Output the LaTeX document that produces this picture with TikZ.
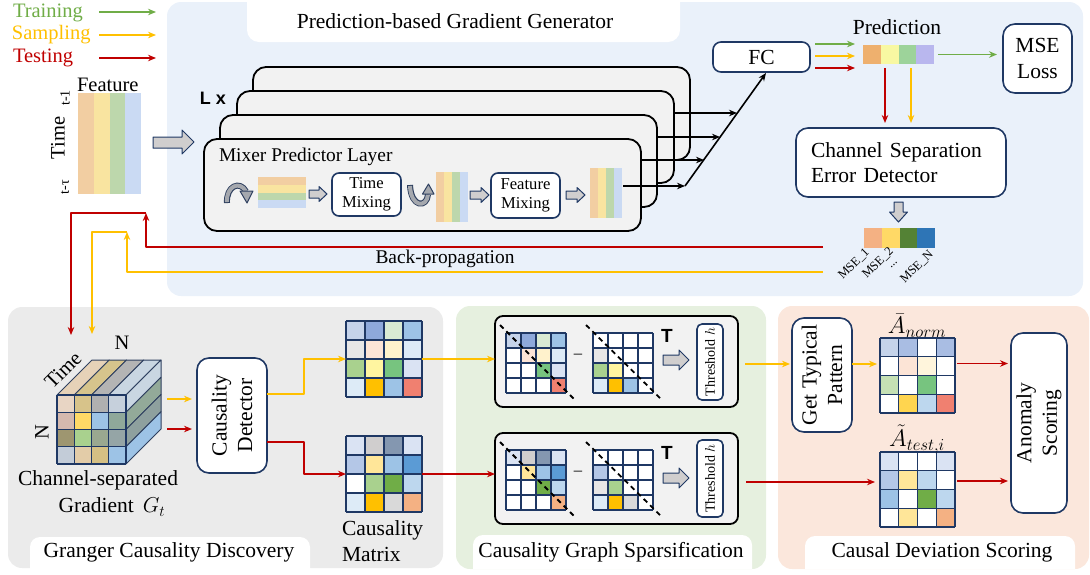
\documentclass[tikz,border=0pt]{standalone}
\usepackage{fix-cm}
\usepackage{fontspec}
\setmainfont{Liberation Serif}
\newfontfamily\lsans{Liberation Sans}
\usetikzlibrary{arrows.meta,calc}
\newcommand\fA{\fontsize{21.5}{25.5}\selectfont}
\newcommand\fL{\fontsize{20.5}{24}\selectfont}
\newcommand\fB{\fontsize{19.4}{22}\selectfont}
\newcommand\fM{\fontsize{16.6}{19}\selectfont}
\newcommand\fT{\fontsize{14}{16}\selectfont}
\newcommand\fS{\fontsize{12.5}{13}\selectfont}
\definecolor{cgreen}{HTML}{70AD47}
\definecolor{cyel}{HTML}{FFC000}
\definecolor{cred}{HTML}{C00000}
\definecolor{navy}{HTML}{1F3864}
\definecolor{navyd}{HTML}{2F4060}
\definecolor{bluep}{HTML}{EAF1FA}
\definecolor{greyp}{HTML}{EBEBEB}
\definecolor{greenp}{HTML}{E6F0DF}
\definecolor{orangep}{HTML}{FBE7DC}
\definecolor{layerg}{HTML}{F2F2F2}
\definecolor{agrey}{HTML}{D0CECE}
\definecolor{igrey}{HTML}{A5A8AE}
\definecolor{so}{HTML}{F2CEA2}
\definecolor{sy}{HTML}{F9E4A0}
\definecolor{sg}{HTML}{BDD7AC}
\definecolor{sb}{HTML}{CADAF3}
\definecolor{pa}{HTML}{EEB06E}
\definecolor{pb}{HTML}{F8F8A2}
\definecolor{pc}{HTML}{9DD39A}
\definecolor{pd}{HTML}{B9B7EE}
\definecolor{ma}{HTML}{F4B183}
\definecolor{mb}{HTML}{FFD966}
\definecolor{mc}{HTML}{548235}
\definecolor{md}{HTML}{2E75B6}
\definecolor{lbA}{HTML}{C5D3EA}
\definecolor{mbA}{HTML}{8EA9DB}
\definecolor{lgA}{HTML}{D9EAD3}
\definecolor{sbA}{HTML}{9DC3E6}
\definecolor{lgrA}{HTML}{E7E6E6}
\definecolor{pchA}{HTML}{FCE4D6}
\definecolor{crmA}{HTML}{FFF2CC}
\definecolor{pcyA}{HTML}{DDEBF7}
\definecolor{grA}{HTML}{A9D18E}
\definecolor{pyeA}{HTML}{FFF5A0}
\definecolor{mgA}{HTML}{77C47F}
\definecolor{pblA}{HTML}{DAE3F3}
\definecolor{goldA}{HTML}{FFC000}
\definecolor{salA}{HTML}{F08070}
\definecolor{gryA}{HTML}{D0CECE}
\definecolor{slaA}{HTML}{8497B0}
\definecolor{blA}{HTML}{B4C7E7}
\definecolor{lyA}{HTML}{FFE699}
\definecolor{mblA}{HTML}{5B9BD5}
\definecolor{dgA}{HTML}{70AD47}
\definecolor{bl3A}{HTML}{BDD7EE}
\definecolor{lgyA}{HTML}{D9D9D9}
\definecolor{orgA}{HTML}{F4B183}
\definecolor{lggA}{HTML}{C5E0B4}
\definecolor{ydA}{HTML}{FFD54F}
\definecolor{amA}{HTML}{A9BDE3}
\definecolor{crm2A}{HTML}{FFF5DC}
\definecolor{cu1}{HTML}{E8D5C4}
\definecolor{cu2}{HTML}{D7C38A}
\definecolor{cu3}{HTML}{B0B0B0}
\definecolor{cu4}{HTML}{C6D0DC}
\definecolor{cu5}{HTML}{D5B9AE}
\definecolor{cu6}{HTML}{FFD966}
\definecolor{cu7}{HTML}{9DC3E6}
\definecolor{cu8}{HTML}{8FA89A}
\definecolor{cu9}{HTML}{9E9670}
\definecolor{cu10}{HTML}{A9D18E}
\definecolor{cu11}{HTML}{9AA890}
\definecolor{cu12}{HTML}{95A5A6}
\definecolor{cu13}{HTML}{C3CCD8}
\definecolor{cu14}{HTML}{E3CCA8}
\definecolor{cu15}{HTML}{D5C084}
\definecolor{ct1}{HTML}{E6D2B8}
\definecolor{ct2}{HTML}{D6C48C}
\definecolor{ct3}{HTML}{B4B4B4}
\definecolor{ct4}{HTML}{C9D6E2}
\definecolor{cr2}{HTML}{93AA99}
\definecolor{cr3}{HTML}{8EA09E}
\newcommand\cmat[4]{%
 \foreach \cl [count=\ii from 0] in {#4} {%
   \pgfmathtruncatemacro\cmr{\ii/4}%
   \pgfmathtruncatemacro\cmc{\ii-4*\cmr}%
   \fill[\cl] ({#1+\cmc*#3},{#2+\cmr*#3}) rectangle ++(#3,#3);%
 }%
 \foreach \k in {0,...,4} {%
   \draw[navy, line width=1.2] ({#1+\k*#3},#2) -- ++(0,{4*#3});%
   \draw[navy, line width=1.2] (#1,{#2+\k*#3}) -- ++({4*#3},0);%
 }%
}
\newcommand\vstripes[4]{\foreach \cl [count=\ii from 0] in {so,sy,sg,sb} {\fill[\cl] ({#1+\ii*#3/4},#2) rectangle ++({#3/4},#4);}}
\newcommand\hstripes[4]{\foreach \cl [count=\ii from 0] in {so,sy,sg,sb} {\fill[\cl] (#1,{#2+\ii*#4/4}) rectangle ++(#3,{#4/4});}}
\newcommand\rarrow[6]{\filldraw[barrow] (#1,{#2-#4}) -- ({#3-#6},{#2-#4}) -- ({#3-#6},{#2-#5}) -- (#3,#2) -- ({#3-#6},{#2+#5}) -- ({#3-#6},{#2+#4}) -- (#1,{#2+#4}) -- cycle;}
\begin{document}
\begin{tikzpicture}[x=1pt,y=-1pt,line join=round,
  every node/.style={inner sep=0,outer sep=0},
  tip/.style={-{Stealth[length=8pt,width=6.5pt]}},
  gline/.style={tip,draw=cgreen,line width=1.6},
  yline/.style={tip,draw=cyel,line width=1.6},
  rline/.style={tip,draw=cred,line width=1.6},
  kline/.style={tip,draw=black,line width=1.6},
  nbox/.style={draw=navy,line width=1.6,rounded corners=8,fill=white},
  layer/.style={draw=black,line width=1.8,rounded corners=13,fill=layerg},
  barrow/.style={fill=agrey,draw=navy,line width=1},
  gbox/.style={draw=black,line width=1.8,rounded corners=8,fill=layerg},
  diag/.style={draw=black,line width=1.8,dash pattern=on 5pt off 4pt},
  tabtxt/.style={font=\fA}]
\useasboundingbox (0,0) rectangle (1090,574);
% ---------- panels
\fill[bluep,rounded corners=14] (167,2) rectangle (1083,296);
\fill[white,rounded corners=12] (247,-20) rectangle (680,42);
\node[tabtxt] (ttl) at (455,21) {Prediction-based Gradient Generator};
\fill[greyp,rounded corners=14] (8,307) rectangle (443,568);
\fill[greenp,rounded corners=14] (456,306) rectangle (766,569);
\fill[orangep,rounded corners=14] (778,306) rectangle (1089,569);
\begin{scope}
\clip (0,0) rectangle (1090,568.5);
\fill[white,rounded corners=10] (30,537) rectangle (310,600);
\fill[white,rounded corners=10] (473,535) rectangle (752,600);
\fill[white,rounded corners=10] (805,536) rectangle (1075,600);
\end{scope}
\node[tabtxt] (t1) at (169,552) {Granger Causality Discovery};
\node[tabtxt] (t2) at (611,552) {Causality Graph Sparsification};
\node[tabtxt] (t3) at (942,552) {Causal Deviation Scoring};
% ---------- legend
\node[anchor=base west,text=cgreen,font=\fL] (ltr) at (13,17) {Training};
\node[anchor=base west,text=cyel,font=\fL] (lsa) at (12,39) {Sampling};
\node[anchor=base west,text=cred,font=\fL] (lte) at (13,62) {Testing};
\coordinate (g0) at (99,12); \coordinate (g1) at (156,12);
\coordinate (y0) at (99,35); \coordinate (y1) at (156,35);
\coordinate (r0) at (99,58); \coordinate (r1) at (156,58);
\draw[gline] (g0) -- (g1);
\draw[yline] (y0) -- (y1);
\draw[rline] (r0) -- (r1);
% ---------- feature input
\node[anchor=base west,font=\fL] (feat) at (77,91) {Feature};
\vstripes{78}{93}{63}{101}
\node[minimum width=63,minimum height=101,anchor=north west] (fblk) at (78,93) {};
\node[rotate=90,font=\fL] (timel) at (58,138) {Time};
\node[rotate=90,font=\fT] (tm1) at (65,98) {t-1};
\node[rotate=90,font=\fT] (tmt) at (65,187) {t-τ};
\filldraw[barrow] (153,137) -- (182,137) -- (182,130) -- (194,142) -- (182,154) -- (182,148) -- (153,148) -- cycle;
% ---------- layer stack
\node[layer,minimum width=437,minimum height=93,anchor=north west] (L3) at (253,67) {};
\node[layer,minimum width=437,minimum height=92,anchor=north west] (L2) at (237,91) {};
\node[layer,minimum width=437,minimum height=92,anchor=north west] (L1) at (220,115) {};
\node[layer,minimum width=437,minimum height=92,anchor=north west] (L0) at (204,139) {};
\node[font=\lsans\bfseries\fontsize{18}{20}\selectfont] (lx) at (213,98) {L x};
\node[anchor=base west,font=\fB] (mpl) at (219,161) {Mixer Predictor Layer};
% icon 1
\draw[navyd,line width=6] (227,203) .. controls (226,186) and (240,180) .. (246,191.5);
\draw[igrey,line width=4] (227,202) .. controls (226,186) and (240,180) .. (246,191.5);
\filldraw[fill=igrey,draw=navyd,line width=1] (240,191) -- (253,191) -- (247,203) -- cycle;
\hstripes{258}{177}{48}{31}
\node[minimum width=48,minimum height=31,anchor=north west] (hblk) at (258,177) {};
\rarrow{309}{194}{327}{4}{7.5}{8}
\node[nbox,rounded corners=7,minimum width=69,minimum height=43,align=center,font=\fM] (tmix) at (366.5,194.5) {Time\\Mixing};
% icon 2
\draw[navyd,line width=6] (410,185) .. controls (411,208) and (427,208) .. (428,194.5);
\draw[igrey,line width=4] (410,186) .. controls (411,208) and (427,208) .. (428,194.5);
\filldraw[fill=igrey,draw=navyd,line width=1] (422.5,194) -- (434,194) -- (428.5,184) -- cycle;
\vstripes{436}{172}{32}{50}
\node[minimum width=32,minimum height=50,anchor=north west] (vb1) at (436,172) {};
\rarrow{470}{195}{489}{4}{7.5}{8}
\node[nbox,rounded corners=7,minimum width=69,minimum height=45,align=center,font=\fM] (fmix) at (525.5,195.5) {Feature\\Mixing};
\rarrow{566}{195}{585}{4}{7.5}{8}
\vstripes{590}{168}{32}{50}
\node[minimum width=32,minimum height=50,anchor=north west] (vb2) at (590,168) {};
% outputs to FC
\node[nbox,minimum width=97,minimum height=30,font=\fA] (fc) at (761.5,57) {FC};
\coordinate (o0) at (623,186); \coordinate (d0) at (685,186);
\coordinate (o1) at (641,160); \coordinate (d1) at (704,160);
\coordinate (o2) at (658,137); \coordinate (d2) at (720,137);
\coordinate (o3) at (675,113); \coordinate (d3) at (737,113);
\draw[kline] (o0) -- (d0);
\draw[kline] (o1) -- (d1);
\draw[kline] (o2) -- (d2);
\draw[kline] (o3) -- (d3);
\draw[kline] (d0) -- ([xshift=4.5pt,yshift=-1pt]fc.south);
% ---------- prediction
\node[font=\fA] (predt) at (897,27) {Prediction};
\node[minimum width=71,minimum height=19,anchor=north west] (pred) at (863,45) {};
\fill[pa] (863,45) rectangle (880.75,64);
\fill[pb] (880.75,45) rectangle (898.5,64);
\fill[pc] (898.5,45) rectangle (916.25,64);
\fill[pd] (916.25,45) rectangle (934,64);
\draw[gline] ($(fc.east)+(5,-13)$) -- ($(pred.west)+(-8,-10.5)$);
\draw[yline] ($(fc.east)+(5,-1)$) -- ($(pred.west)+(-8,1.5)$);
\draw[rline] ($(fc.east)+(5,11)$) -- ($(pred.west)+(-8,13.5)$);
\node[nbox,rounded corners=12,minimum width=69,minimum height=69,align=center,font=\fA] (mse) at (1037.5,58.5) {MSE\\Loss};
\coordinate (pe) at ($(pred.east)+(4,0)$);
\draw[gline] (pe) -- ($(pe -| mse.west)+(-6,0)$);
\node[nbox,rounded corners=12,minimum width=210,minimum height=69,align=left,text width=180,font=\fA] (csed) at (901,162.5) {Channel Separation\\Error Detector};
\draw[rline] ($(pred.south)+(-13.5,4)$) -- ($(csed.north)+(-16,-5)$);
\draw[yline] ($(pred.south)+(12.5,4)$) -- ($(csed.north)+(10,-5)$);
\filldraw[barrow] (894,202) -- (903,202) -- (903,212) -- (907.5,212) -- (898.5,222) -- (889.5,212) -- (894,212) -- cycle;
\node[minimum width=71,minimum height=20,anchor=north west] (msebar) at (864,228) {};
\fill[ma] (864,228) rectangle (881.75,248);
\fill[mb] (881.75,228) rectangle (899.5,248);
\fill[mc] (899.5,228) rectangle (917.25,248);
\fill[md] (917.25,228) rectangle (935,248);
\node[rotate=45,font=\fS] (ms1) at (854,264) {MSE\_1};
\node[rotate=45,font=\fS] (ms2) at (878,263) {MSE\_2};
\node[rotate=45,font=\fS] (ms3) at (894,265) {...};
\node[rotate=45,font=\fS] (ms4) at (917,267) {MSE\_N};
% ---------- back-propagation
\node[font=\fB] (bp) at (445,259) {Back-propagation};
\coordinate (br0) at (823,247); \coordinate (br1) at (146,213); \coordinate (br2) at (71,335);
\coordinate (by0) at (823,272); \coordinate (by1) at (127,232); \coordinate (by2) at (92,334);
\draw[rline] (br0) -| (br1);
\draw[rline] (br1) -| (br2);
\draw[yline] (by0) -| (by1);
\draw[yline] (by1) -| (by2);
% ---------- cube
\foreach \cl [count=\jj from 0] in {ct1,ct2,ct3,ct4} {
  \filldraw[fill=\cl,draw=navyd,line width=1] ({57+\jj*17.25},395) -- ++(35,-35) -- ++(17.25,0) -- ++(-35,35) -- cycle;}
\foreach \cl [count=\jj from 0] in {ct4,cr2,cr3,cu7} {
  \filldraw[fill=\cl,draw=navyd,line width=1] (126,{395+\jj*17.25}) -- ++(35,-35) -- ++(0,17.25) -- ++(-35,35) -- cycle;}
\cmat{57}{395}{17.25}{cu1,cu2,cu3,cu4,cu5,cu6,cu7,cu8,cu9,cu10,cu11,cu12,cu13,cu14,cu15,cu7}
\node[minimum width=69,minimum height=69,anchor=north west] (cube) at (57,395) {};
\node[rotate=45,font=\fL] (ctime) at (63,370) {Time};
\node[font=\fL] (cn1) at (122,343) {N};
\node[rotate=90,font=\fL] (cn2) at (42,432) {N};
\node[font=\fA] (cs1) at (98,480) {Channel-separated};
\node[font=\fA] (cs2) at (112,507) {Gradient\, $G_t$};
% ---------- causality detector
\coordinate (cy0) at (167,399); \coordinate (cy1) at (192,399);
\coordinate (cr0) at (167,429); \coordinate (cr1) at (192,429);
\draw[yline] (cy0) -- (cy1);
\draw[rline] (cr0) -- (cr1);
\node[nbox,rounded corners=12,minimum width=70,minimum height=115] (cdet) at (232,415.5) {};
\node[rotate=90,align=center,font=\fA] (cdett) at (cdet) {Causality\\Detector};
\cmat{346}{321}{19}{lbA,mbA,lgA,sbA,lgrA,pchA,crmA,pcyA,grA,pyeA,mgA,pblA,pcyA,goldA,sbA,salA}
\node[minimum width=76,minimum height=76,anchor=north west] (m1) at (346,321) {};
\cmat{346}{436}{19}{pblA,gryA,slaA,pblA,blA,lyA,sbA,mblA,white,grA,dgA,bl3A,pcyA,goldA,lgyA,orgA}
\node[minimum width=76,minimum height=76,anchor=north west] (m2) at (346,436) {};
\draw[yline] ($(cdet.east)+(0,-21.5)$) -| ($(m1.west)+(-42,0)$) -- (m1.west);
\draw[rline] ($(cdet.east)+(0,26.5)$) -| ($(m2.west)+(-42,0)$) -- (m2.west);
\node[anchor=west,align=left,font=\fA] (cmlab) at (342,541) {Causality\\Matrix};
% ---------- sparsification
\node[gbox,minimum width=243,minimum height=91,anchor=north west] (box1) at (495,316) {};
\node[gbox,minimum width=243,minimum height=91,anchor=north west] (box2) at (495,433) {};
\draw[yline] (m1.east) -- (m1.east -| box1.west);
\draw[rline] (m2.east) -- (m2.east -| box2.west);
\cmat{506}{333}{15}{lbA,mbA,lgA,sbA,white,pchA,crmA,pcyA,white,white,mgA,pblA,white,white,white,salA}
\cmat{593}{333}{15}{white,white,white,white,lgrA,white,white,white,grA,pyeA,white,white,pcyA,goldA,sbA,white}
\cmat{506}{450}{15}{pblA,gryA,slaA,pblA,white,lyA,sbA,mblA,white,white,dgA,bl3A,white,white,white,orgA}
\cmat{593}{450}{15}{white,white,white,white,blA,white,white,white,lgrA,grA,white,white,pcyA,goldA,lgyA,white}
\coordinate (da0) at (500,325); \coordinate (da1) at (575,400);
\coordinate (db0) at (586,325); \coordinate (db1) at (662,400);
\coordinate (dc0) at (500,442); \coordinate (dc1) at (575,517);
\coordinate (dd0) at (586,442); \coordinate (dd1) at (662,517);
\draw[diag] (da0) -- (da1);
\draw[diag] (db0) -- (db1);
\draw[diag] (dc0) -- (dc1);
\draw[diag] (dd0) -- (dd1);
\node[font=\fM] (mi1) at (578,356) {–};
\node[font=\fM] (mi2) at (578,473) {–};
\node[font=\lsans\bfseries\fontsize{19}{20}\selectfont] (tt1) at (667,336) {T};
\node[font=\lsans\bfseries\fontsize{19}{20}\selectfont] (tt2) at (667,453) {T};
\rarrow{663}{360}{689}{5}{10}{10}
\rarrow{663}{478}{689}{5}{10}{10}
\node[nbox,rounded corners=5,minimum width=26,minimum height=76] (th1) at (710,362) {};
\node[rotate=90,font=\fT] (th1t) at (th1) {Threshold $h$};
\node[nbox,rounded corners=5,minimum width=26,minimum height=77] (th2) at (710,478.5) {};
\node[rotate=90,font=\fT] (th2t) at (th2) {Threshold $h$};
% ---------- deviation scoring
\node[nbox,rounded corners=12,minimum width=60,minimum height=114] (gtp) at (822,375) {};
\node[rotate=90,align=center,font=\fA] (gtpt) at (gtp) {Get Typical\\Pattern};
\coordinate (b1o) at ($(box1.east)+(7,2.5)$);
\draw[yline] (b1o) -- ($(b1o -| gtp.west)+(-2,0)$);
\cmat{880}{338}{18.75}{lbA,amA,white,amA,white,pchA,crm2A,white,lggA,white,mgA,white,white,ydA,bl3A,salA}
\node[minimum width=75,minimum height=75,anchor=north west] (anorm) at (880,338) {};
\cmat{880}{452}{18.75}{pblA,white,white,pblA,blA,lyA,bl3A,white,sbA,white,dgA,bl3A,white,lyA,white,orgA}
\node[minimum width=75,minimum height=75,anchor=north west] (atest) at (880,452) {};
\node[font=\fontsize{24}{26}\selectfont] (lan) at (917,326) {$\bar{A}_{norm}$};
\node[font=\fontsize{24}{26}\selectfont] (lat) at (917,439) {$\tilde{A}_{test,i}$};
\coordinate (b2o) at ($(box2.east)+(8,3.5)$);
\draw[rline] (b2o) -- ($(b2o -| atest.west)+(-5,0)$);
\coordinate (go) at ($(gtp.east)+(0,-11)$);
\draw[yline] (go) -- ($(go -| anorm.west)+(-3,0)$);
\node[nbox,rounded corners=12,minimum width=56,minimum height=180] (anom) at (1039,423) {};
\node[rotate=90,align=center,font=\fA] (anomt) at (anom) {Anomaly\\Scoring};
\coordinate (ao) at ($(anorm.east)+(2,-12)$);
\draw[rline] (ao) -- ($(ao -| anom.west)+(-3,0)$);
\coordinate (at) at ($(atest.east)+(2,-8.5)$);
\draw[rline] (at) -- ($(at -| anom.west)+(-3,0)$);
\end{tikzpicture}
\end{document}
